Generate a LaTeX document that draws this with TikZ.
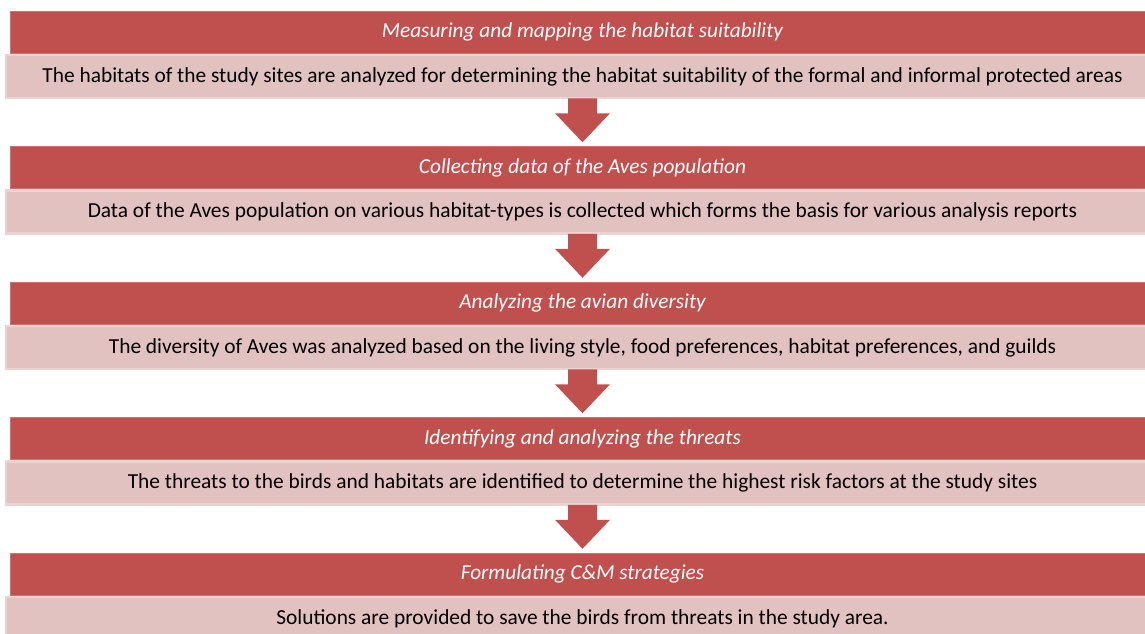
\documentclass[tikz,border=0pt]{standalone}
\usepackage{fontspec}
\setmainfont{Carlito}
\usetikzlibrary{calc}
\definecolor{hdred}{HTML}{C0504D}
\definecolor{pinkfill}{HTML}{E2C2C1}
\definecolor{pinkedge}{HTML}{EBD3D2}
\tikzset{
  hdbox/.style={fill=hdred, draw=hdred!80!white, line width=0.6pt, minimum width=1145pt, minimum height=42pt, inner sep=0pt, text=white, font=\fontsize{21.3}{24}\selectfont\itshape},
  bodybox/.style={fill=pinkfill, draw=pinkedge, line width=2.5pt, minimum width=1153pt, minimum height=43pt, inner sep=0pt, text=black, font=\fontsize{21.4}{24}\selectfont},
  blockarrow/.style={fill=hdred}
}
\begin{document}
\begin{tikzpicture}[x=1pt,y=-1pt]
\useasboundingbox (0,0) rectangle (1145,633);
\clip (0,0) rectangle (1145,633);
\foreach \ii/\hdtext/\bdtext [count=\k] in {
 0/{Measuring and mapping the habitat suitability}/{The habitats of the study sites are analyzed for determining the habitat suitability of the formal and informal protected areas},
 1/{Collecting data of the Aves population}/{Data of the Aves population on various habitat-types is collected which forms the basis for various analysis reports},
 2/{Analyzing the avian diversity}/{The diversity of Aves was analyzed based on the living style, food preferences, habitat preferences, and guilds},
 3/{Identifying and analyzing the threats}/{The threats to the birds and habitats are identified to determine the highest risk factors at the study sites},
 4/{Formulating C\&M strategies}/{Solutions are provided to save the birds from threats in the study area.}}{
  \pgfmathsetmacro{\ytop}{11+135.5*\ii}
  \node[hdbox] (h\k) at (582.5,\ytop+21) {\hdtext};
  \node[bodybox] (b\k) at (582.5,\ytop+65.5) {\bdtext};
}
\foreach \k in {1,2,3,4}{
  \fill[blockarrow] ($(b\k.south)+(-14.5,-1)$) -- ($(b\k.south)+(14.5,-1)$) -- ($(b\k.south)+(14.5,14)$) -- ($(b\k.south)+(27.5,14)$) -- ($(b\k.south)+(0,43)$) -- ($(b\k.south)+(-27.5,14)$) -- ($(b\k.south)+(-14.5,14)$) -- cycle;
}
\end{tikzpicture}
\end{document}
